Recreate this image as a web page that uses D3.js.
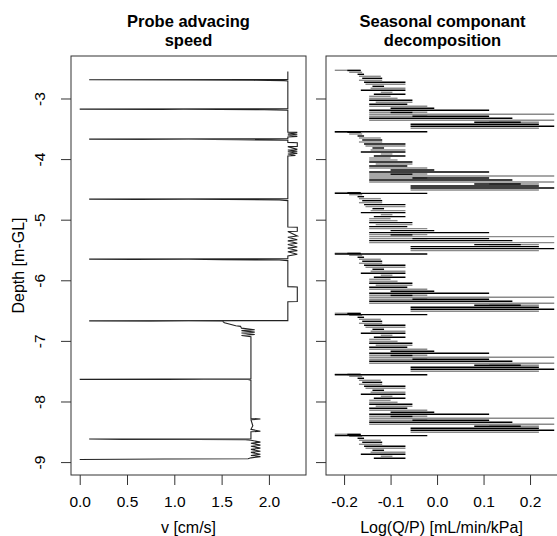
<!DOCTYPE html>
<html>
<head>
<meta charset="utf-8"/>
<title>Probe speed and seasonal component</title>
<script src="https://d3js.org/d3.v7.min.js"></script>
<style>
    body { margin: 0; background: #fff; }
    text { font-family: "Liberation Sans", Arial, sans-serif; fill: #000; }
    .ttl { font-size: 16.5px; font-weight: bold; }
    .tick text { font-size: 15.5px; }
    .lab { font-size: 16px; }
</style>
</head>
<body>
<svg id="chart" width="557" height="536"></svg>
<script>
// probe advancing speed: [v cm/s, depth m]
var probe = [
    [2.20, -2.555], [2.20, -2.685], [0.10, -2.690], [1.15, -2.693], [1.84, -2.700], [2.16, -2.706], [2.20, -2.712],
    [2.20, -3.170], [0.00, -3.175], [0.86, -3.180], [1.10, -3.178], [1.95, -3.186], [2.20, -3.195],
    [2.20, -3.555], [2.30, -3.560], [2.20, -3.570], [2.30, -3.590], [2.20, -3.600], [2.30, -3.625], [2.20, -3.635],
    [2.20, -3.665], [0.10, -3.670], [0.66, -3.675], [1.15, -3.672], [1.67, -3.680], [2.20, -3.690],
    [2.20, -3.725], [2.30, -3.730], [2.30, -3.790], [2.20, -3.795], [2.30, -3.840], [2.20, -3.850],
    [2.30, -3.870], [2.20, -3.880], [2.30, -3.905], [2.20, -3.915], [2.28, -3.940], [2.20, -3.950],
    [2.20, -4.655], [0.10, -4.660], [0.61, -4.665], [1.15, -4.662], [1.55, -4.668], [2.11, -4.675], [2.20, -4.685],
    [2.20, -5.120], [2.30, -5.125], [2.30, -5.190], [2.20, -5.195], [2.30, -5.270], [2.20, -5.290],
    [2.30, -5.330], [2.20, -5.350], [2.30, -5.390], [2.20, -5.410], [2.30, -5.450], [2.20, -5.470],
    [2.30, -5.510], [2.20, -5.530], [2.30, -5.570], [2.20, -5.600],
    [2.20, -5.645], [0.10, -5.650], [0.56, -5.655], [1.15, -5.652], [1.51, -5.660], [2.11, -5.666], [2.20, -5.675],
    [2.20, -6.105], [2.30, -6.110], [2.30, -6.350], [2.20, -6.355],
    [2.20, -6.665], [0.10, -6.670], [0.75, -6.675], [1.15, -6.672], [1.51, -6.676], [1.53, -6.700],
    [1.65, -6.750], [1.70, -6.760], [1.71, -6.790], [1.85, -6.815], [1.71, -6.830], [1.85, -6.855],
    [1.71, -6.870], [1.85, -6.895], [1.71, -6.910], [1.81, -6.930],
    [1.81, -7.625], [0.00, -7.635], [0.91, -7.638], [1.31, -7.632], [1.78, -7.636], [1.81, -7.650],
    [1.81, -8.280], [1.91, -8.290], [1.81, -8.300], [1.83, -8.400], [1.81, -8.460], [1.91, -8.490], [1.81, -8.500],
    [1.81, -8.615], [0.10, -8.620], [0.45, -8.625], [1.24, -8.628], [1.75, -8.632], [1.81, -8.640],
    [1.91, -8.670], [1.81, -8.690], [1.91, -8.720], [1.81, -8.740], [1.91, -8.770], [1.81, -8.790],
    [1.91, -8.820], [1.81, -8.840], [1.91, -8.870], [1.81, -8.890], [1.91, -8.910], [1.81, -8.930],
    [1.78, -8.945], [0.90, -8.950], [0.00, -8.957]
];

// top depth of each seasonal cycle (m)
var cycleTops = [-2.535, -3.553, -4.554, -5.554, -6.545, -7.551, -8.541];

// seasonal component over one cycle: [offset below cycle top m, low, high]
var seasonBlack = [
    [0.003, -0.193, -0.164], [0.066, -0.171, -0.157], [0.132, -0.161, -0.118], [0.198, -0.157, -0.068],
    [0.264, -0.139, -0.114], [0.330, -0.164, -0.068], [0.396, -0.136, -0.068], [0.495, -0.146, -0.053],
    [0.561, -0.146, -0.064], [0.627, -0.100, -0.006], [0.660, -0.146, 0.112], [0.696, -0.100, -0.053],
    [0.759, -0.053, 0.112], [0.792, -0.146, 0.162], [0.858, 0.080, 0.180], [0.891, -0.057, 0.219],
    [0.924, -0.057, 0.252], [1.013, -0.220, -0.021]
];
var seasonGray = [
    [0.000, -0.220, -0.165], [0.033, -0.189, -0.161], [0.099, -0.168, -0.121], [0.165, -0.168, -0.118],
    [0.231, -0.154, -0.068], [0.297, -0.143, -0.068], [0.363, -0.121, -0.096], [0.429, -0.146, -0.100],
    [0.462, -0.146, -0.085], [0.528, -0.132, -0.053], [0.594, -0.146, -0.021], [0.693, -0.146, -0.021],
    [0.726, -0.146, 0.252], [0.759, -0.146, -0.021], [0.825, -0.146, 0.252], [0.858, 0.112, 0.219],
    [0.957, -0.057, 0.219]
];

var speedTicks = [0, 0.5, 1, 1.5, 2];
var logTicks = [-0.2, -0.1, 0, 0.1, 0.2];
var depthTicks = [-3, -4, -5, -6, -7, -8, -9];

var svg = d3.select("#chart");
var plotTop = 56, plotBottom = 475;
var left1 = 71, right1 = 306, left2 = 326, right2 = 563;

// R style 4% padding on the data range
function padded(ext) {
    var p = (ext[1] - ext[0]) * 0.04;
    return [ext[0] - p, ext[1] + p];
}

var depthExt = d3.extent(probe, function(d) { return d[1]; });
var y = d3.scaleLinear().domain(padded(depthExt)).range([plotBottom, plotTop]);

var x1 = d3.scaleLinear()
    .domain(padded(d3.extent(probe, function(d) { return d[0]; })))
    .range([left1, right1]);

var allSeason = seasonBlack.concat(seasonGray);
var x2 = d3.scaleLinear()
    .domain(padded([d3.min(allSeason, function(d) { return d[1]; }), d3.max(allSeason, function(d) { return d[2]; })]))
    .range([left2, right2]);

function fmt(d) { return d.toFixed(1); }

// ---- left panel
var line = d3.line()
    .x(function(d) { return x1(d[0]); })
    .y(function(d) { return y(d[1]); });

svg.append("path")
    .datum(probe)
    .attr("d", line)
    .attr("fill", "none")
    .attr("stroke", "#222")
    .attr("stroke-width", 1.1);

// ---- right panel
function drawSeason(rows, colour) {
    var segs = [];
    cycleTops.forEach(function(t) {
        rows.forEach(function(r) {
            var d = t - r[0];
            if (d >= depthExt[0] - 0.005) segs.push({ d: d, lo: r[1], hi: r[2] });
        });
    });
    svg.append("g").selectAll("line")
        .data(segs)
        .enter().append("line")
        .attr("x1", function(s) { return x2(s.lo); })
        .attr("x2", function(s) { return x2(s.hi); })
        .attr("y1", function(s) { return y(s.d); })
        .attr("y2", function(s) { return y(s.d); })
        .attr("stroke", colour)
        .attr("stroke-width", 1.4);
}
drawSeason(seasonGray, "#8a8a8a");
drawSeason(seasonBlack, "#000");

// boxes
[[left1, right1], [left2, right2]].forEach(function(b) {
    svg.append("rect")
        .attr("x", b[0]).attr("y", plotTop)
        .attr("width", b[1] - b[0]).attr("height", plotBottom - plotTop)
        .attr("fill", "none")
        .attr("stroke", "#333")
        .attr("stroke-width", 1);
});

// axes
var ax1 = svg.append("g").attr("transform", "translate(0," + plotBottom + ")")
    .call(d3.axisBottom(x1).tickValues(speedTicks).tickFormat(fmt).tickSize(10).tickPadding(17));
var ax2 = svg.append("g").attr("transform", "translate(0," + plotBottom + ")")
    .call(d3.axisBottom(x2).tickValues(logTicks).tickFormat(fmt).tickSize(10).tickPadding(17));
var ay1 = svg.append("g").attr("transform", "translate(" + left1 + ",0)")
    .call(d3.axisLeft(y).tickValues(depthTicks).tickFormat(d3.format("d")).tickSize(10));
var ay2 = svg.append("g").attr("transform", "translate(" + left2 + ",0)")
    .call(d3.axisLeft(y).tickValues(depthTicks).tickFormat("").tickSize(10));

[ax1, ax2, ay1, ay2].forEach(function(a) {
    a.select(".domain").remove();
    a.selectAll(".tick line").attr("stroke", "#333");
    a.attr("font-family", null).attr("font-size", null);
});
ax1.selectAll(".tick text").attr("dy", "0.35em");
ax2.selectAll(".tick text").attr("dy", "0.35em");

ay1.selectAll(".tick text")
    .text(function(d) { return String(d); })
    .attr("transform", "rotate(-90)")
    .attr("x", 0)
    .attr("y", -26)
    .attr("dy", 0)
    .attr("text-anchor", "middle");

// labels
svg.append("text").attr("class", "lab")
    .attr("x", (left1 + right1) / 2).attr("y", 533)
    .attr("text-anchor", "middle").text("v [cm/s]");
svg.append("text").attr("class", "lab")
    .attr("x", (left2 + right2) / 2 - 3).attr("y", 533)
    .attr("text-anchor", "middle").text("Log(Q/P) [mL/min/kPa]");
svg.append("text").attr("class", "lab")
    .attr("transform", "translate(24," + (plotTop + plotBottom) / 2 + ") rotate(-90)")
    .attr("text-anchor", "middle").text("Depth [m-GL]");

// titles
svg.append("text").attr("class", "ttl").attr("x", (left1 + right1) / 2).attr("y", 26.5)
    .attr("text-anchor", "middle").text("Probe advacing");
svg.append("text").attr("class", "ttl").attr("x", (left1 + right1) / 2).attr("y", 46)
    .attr("text-anchor", "middle").text("speed");
svg.append("text").attr("class", "ttl").attr("x", (left2 + right2) / 2 - 2).attr("y", 26.5)
    .attr("text-anchor", "middle").text("Seasonal componant");
svg.append("text").attr("class", "ttl").attr("x", (left2 + right2) / 2 - 2).attr("y", 46)
    .attr("text-anchor", "middle").text("decomposition");
</script>
</body>
</html>
